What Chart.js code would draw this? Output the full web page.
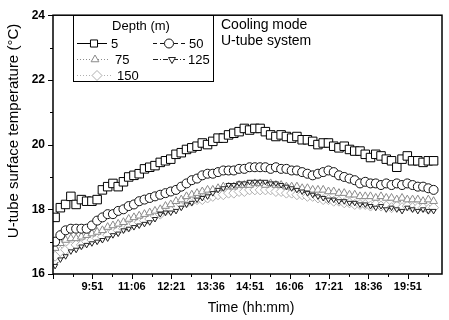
<!DOCTYPE html>
<html>
<head>
<meta charset="utf-8">
<script src="https://cdn.jsdelivr.net/npm/chart.js@4.4.1/dist/chart.umd.min.js"></script>
<style>
  html, body { margin: 0; padding: 0; background: #fff; overflow: hidden; }
  canvas { display: block; }
</style>
</head>
<body>
<canvas id="myChart" width="449" height="320"></canvas>
<script>
  // x axis runs from 8:36; labelled ticks every 75 min
  const xStart = "8:36"
  const xTickLabels = ["9:51", "11:06", "12:21", "13:36", "14:51", "16:06", "17:21", "18:36", "19:51"]
  const yTickLabels = [16, 18, 20, 22, 24]

  const depthLabels = ["5", "50", "75", "125", "150"]

  const times = [
    "8:40", "8:50", "9:00", "9:10", "9:20", "9:30", "9:40", "9:50",
    "10:00", "10:10", "10:20", "10:30", "10:40", "10:50",
    "11:00", "11:10", "11:20", "11:30", "11:40", "11:50",
    "12:00", "12:10", "12:20", "12:30", "12:40", "12:50",
    "13:00", "13:10", "13:20", "13:30", "13:40", "13:50",
    "14:00", "14:10", "14:20", "14:30", "14:40", "14:50",
    "15:00", "15:10", "15:20", "15:30", "15:40", "15:50",
    "16:00", "16:10", "16:20", "16:30", "16:40", "16:50",
    "17:00", "17:10", "17:20", "17:30", "17:40", "17:50",
    "18:00", "18:10", "18:20", "18:30", "18:40", "18:50",
    "19:00", "19:10", "19:20", "19:30", "19:40", "19:50",
    "20:00", "20:10", "20:20", "20:30", "20:40"
  ]

  const depth5 = [
    17.75, 18.05, 18.15, 18.4, 18.15, 18.3, 18.25, 18.25, 18.3, 18.6,
    18.7, 18.8, 18.7, 18.85, 19.0, 19.05, 19.1, 19.25, 19.3, 19.35,
    19.45, 19.5, 19.55, 19.7, 19.75, 19.85, 19.9, 19.95, 20.05, 20.0,
    20.1, 20.2, 20.2, 20.3, 20.35, 20.4, 20.5, 20.45, 20.5, 20.5,
    20.4, 20.3, 20.25, 20.3, 20.25, 20.2, 20.25, 20.15, 20.15, 20.1,
    20.0, 20.05, 20.05, 19.95, 19.9, 19.95, 19.85, 19.8, 19.8, 19.7,
    19.6, 19.7, 19.65, 19.55, 19.5, 19.3, 19.55, 19.65, 19.5, 19.5,
    19.45, 19.5, 19.5
  ]
  const depth50 = [
    17.0, 17.2, 17.35, 17.4, 17.4, 17.4, 17.4, 17.5, 17.65, 17.75,
    17.85, 17.85, 17.95, 18.0, 18.1, 18.15, 18.25, 18.3, 18.35, 18.4,
    18.45, 18.5, 18.55, 18.6, 18.7, 18.8, 18.9, 18.95, 19.05, 19.1,
    19.1, 19.15, 19.2, 19.2, 19.2, 19.25, 19.25, 19.3, 19.3, 19.3,
    19.3, 19.25, 19.3, 19.25, 19.25, 19.2, 19.2, 19.15, 19.1, 19.05,
    19.1, 19.15, 19.2, 19.15, 19.05, 19.0, 18.95, 18.9, 18.8, 18.85,
    18.8, 18.8, 18.75, 18.8, 18.75, 18.8, 18.75, 18.8, 18.75, 18.7,
    18.7, 18.65, 18.6
  ]
  const depth75 = [
    16.8, 16.95, 17.05, 17.1, 17.1, 17.15, 17.2, 17.25, 17.3, 17.35,
    17.45, 17.5, 17.55, 17.6, 17.7, 17.75, 17.8, 17.85, 17.9, 17.95,
    18.0, 18.1, 18.15, 18.25, 18.3, 18.4, 18.45, 18.5, 18.55, 18.6,
    18.6, 18.65, 18.7, 18.7, 18.7, 18.75, 18.75, 18.75, 18.8, 18.8,
    18.75, 18.8, 18.75, 18.75, 18.7, 18.7, 18.7, 18.65, 18.65, 18.6,
    18.6, 18.6, 18.55, 18.55, 18.5, 18.5, 18.45, 18.45, 18.4, 18.4,
    18.4, 18.35, 18.4, 18.35, 18.35, 18.3, 18.35, 18.3, 18.3, 18.3,
    18.25, 18.3, 18.25
  ]
  const depth125 = [
    16.25, 16.45, 16.55, 16.7, 16.75, 16.85, 16.9, 16.95, 17.0, 17.05,
    17.1, 17.2, 17.25, 17.35, 17.4, 17.45, 17.5, 17.55, 17.6, 17.7,
    17.85, 17.9, 17.9, 17.95, 18.05, 18.15, 18.2, 18.3, 18.35, 18.4,
    18.5, 18.6, 18.65, 18.75, 18.75, 18.8, 18.8, 18.85, 18.85, 18.85,
    18.85, 18.8, 18.8, 18.75, 18.7, 18.65, 18.6, 18.55, 18.5, 18.45,
    18.4, 18.35, 18.3, 18.3, 18.25, 18.25, 18.2, 18.2, 18.15, 18.15,
    18.1, 18.05, 18.1, 18.0, 18.05, 18.0, 17.95, 18.05, 18.0, 17.95,
    18.0, 17.95, 17.95
  ]
  const depth150 = [
    16.55, 16.7, 16.75, 16.85, 16.9, 16.9, 17.0, 17.05, 17.1, 17.15,
    17.2, 17.3, 17.35, 17.4, 17.45, 17.55, 17.6, 17.65, 17.7, 17.8,
    17.85, 17.95, 18.0, 18.1, 18.15, 18.2, 18.25, 18.3, 18.3, 18.35,
    18.4, 18.45, 18.45, 18.5, 18.5, 18.55, 18.55, 18.6, 18.6, 18.6,
    18.6, 18.6, 18.55, 18.55, 18.5, 18.5, 18.45, 18.45, 18.4, 18.4,
    18.35, 18.3, 18.3, 18.25, 18.25, 18.2, 18.2, 18.15, 18.15, 18.15,
    18.1, 18.15, 18.1, 18.1, 18.05, 18.1, 18.05, 18.1, 18.05, 18.05,
    18.05, 18.0, 18.05
  ]

  const toMin = s => { const [h, m] = s.split(":").map(Number); return h * 60 + m }
  const fmt = v => Math.floor(v / 60) + ":" + String(Math.round(v % 60)).padStart(2, "0")
  const pts = vals => vals.map((v, i) => ({ x: toMin(times[i]), y: v }))

  const FONT = "'Liberation Sans', Arial, sans-serif"

  function series(label, vals, color, dash, style, radius, order, rotation) {
    return {
      label: label,
      data: pts(vals),
      borderColor: color,
      borderWidth: 1,
      borderDash: dash,
      pointStyle: style,
      pointRadius: radius,
      pointRotation: rotation || 0,
      pointBorderColor: color,
      pointBackgroundColor: "#fff",
      pointBorderWidth: 1,
      order: order
    }
  }

  const datasets = [
    series(depthLabels[0], depth5, "#000", [], "rect", 6, 1),
    series(depthLabels[1], depth50, "#111", [4, 3], "circle", 4.5, 2),
    series(depthLabels[2], depth75, "#8a8a8a", [1, 2], "triangle", 4.5, 4),
    series(depthLabels[3], depth125, "#222", [5, 2, 1, 2], "triangle", 3, 3, 180),
    series(depthLabels[4], depth150, "#b0b0b0", [1, 2], "rectRot", 5, 5)
  ]

  // frame, minor/major ticks, titles, legend box
  const decor = {
    id: "decor",
    afterDatasetsDraw(chart) {
      const { ctx, chartArea: a, scales: { x, y } } = chart
      ctx.save()
      ctx.strokeStyle = "#000"
      ctx.lineWidth = 1.5
      ctx.strokeRect(a.left, a.top, a.right - a.left, a.bottom - a.top)

      ctx.lineWidth = 1
      ctx.beginPath()
      for (let k = 0; ; k++) {
        const v = toMin(xStart) + 37.5 * k
        if (v > x.max) break
        const px = Math.round(x.getPixelForValue(v)) + 0.5
        ctx.moveTo(px, a.bottom)
        ctx.lineTo(px, a.bottom + (k % 2 === 0 ? 5 : 3))
      }
      for (let v = y.min; v <= y.max; v++) {
        const py = Math.round(y.getPixelForValue(v)) + 0.5
        ctx.moveTo(a.left, py)
        ctx.lineTo(a.left - (v % 2 === 0 ? 5 : 3), py)
      }
      ctx.stroke()
      ctx.restore()
    },
    afterDraw(chart) {
      const { ctx } = chart
      ctx.save()
      ctx.fillStyle = "#000"
      ctx.textBaseline = "middle"

      ctx.font = "14px " + FONT
      ctx.textAlign = "center"
      ctx.fillText("Time (hh:mm)", 251, 308)

      ctx.save()
      ctx.translate(14, 131)
      ctx.rotate(-Math.PI / 2)
      ctx.font = "15px " + FONT
      ctx.fillText("U-tube surface temperature (\u00B0C)", 0, 0)
      ctx.restore()

      ctx.textAlign = "left"
      ctx.font = "14px " + FONT
      ctx.fillText("Cooling mode", 221, 25)
      ctx.fillText("U-tube system", 221, 41)

      // legend
      ctx.fillStyle = "#fff"
      ctx.fillRect(73.5, 15.5, 140, 66)
      ctx.strokeStyle = "#000"
      ctx.lineWidth = 1
      ctx.strokeRect(73.5, 15.5, 140, 66)
      ctx.fillStyle = "#000"
      ctx.font = "13px " + FONT
      ctx.textAlign = "center"
      ctx.fillText("Depth (m)", 141, 26)

      const slots = [
        { x0: 77, x1: 107, mx: 94, tx: 111, y: 43 },
        { x0: 153, x1: 187, mx: 169, tx: 189, y: 43 },
        { x0: 77, x1: 110, mx: 95, tx: 115, y: 59 },
        { x0: 153, x1: 185, mx: 172, tx: 188, y: 59 },
        { x0: 77, x1: 113, mx: 97, tx: 117, y: 75 }
      ]
      ctx.textAlign = "left"
      chart.data.datasets.forEach((ds, i) => {
        const s = slots[i]
        ctx.save()
        ctx.strokeStyle = ds.borderColor
        ctx.lineWidth = 1
        ctx.setLineDash(ds.borderDash)
        ctx.beginPath()
        ctx.moveTo(s.x0, s.y + 0.5)
        ctx.lineTo(s.x1, s.y + 0.5)
        ctx.stroke()
        ctx.setLineDash([])
        ctx.fillStyle = "#fff"
        Chart.helpers.drawPoint(ctx, {
          pointStyle: ds.pointStyle,
          radius: Math.min(Math.max(ds.pointRadius, 4), 5),
          rotation: ds.pointRotation,
          borderWidth: 1
        }, s.mx, s.y + 0.5)
        ctx.restore()
        ctx.fillText(ds.label, s.tx, s.y + 1)
      })
      ctx.restore()
    }
  }

  const ctx = document.getElementById("myChart").getContext("2d")
  const chart = new Chart(ctx, {
    type: "line",
    data: { datasets: datasets },
    options: {
      responsive: false,
      animation: false,
      layout: { padding: { left: 0, right: 2, top: 10, bottom: 0 } },
      plugins: { legend: { display: false }, tooltip: { enabled: false } },
      scales: {
        x: {
          type: "linear",
          min: toMin(xStart),
          max: 1256,
          grid: { display: false, drawTicks: false },
          border: { display: false },
          afterFit: s => { s.height = 46 },
          afterBuildTicks: s => { s.ticks = xTickLabels.map(l => ({ value: toMin(l) })) },
          ticks: {
            autoSkip: false,
            maxRotation: 0,
            padding: 6,
            color: "#000",
            font: { family: FONT, size: 11, weight: "bold" },
            callback: v => fmt(v)
          }
        },
        y: {
          min: 16,
          max: 24,
          grid: { display: false, drawTicks: false },
          border: { display: false },
          afterFit: s => { s.width = 53 },
          afterBuildTicks: s => { s.ticks = yTickLabels.map(v => ({ value: v })) },
          ticks: {
            padding: 8,
            color: "#000",
            font: { family: FONT, size: 12, weight: "bold" }
          }
        }
      }
    },
    plugins: [decor]
  })
</script>
</body>
</html>
